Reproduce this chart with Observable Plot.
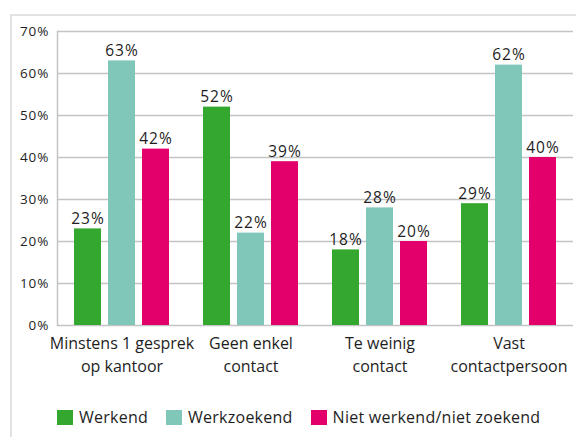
<!DOCTYPE html>
<html>
<head>
<meta charset="utf-8">
<script src="https://cdn.jsdelivr.net/npm/d3@7"></script>
<script src="https://cdn.jsdelivr.net/npm/@observablehq/plot@0.6"></script>
<style>
  html, body { margin: 0; padding: 0; background: #fff; }
  #wrap { position: relative; width: 576px; height: 437px; overflow: hidden; font-family: "Open Sans", "Noto Sans", sans-serif; color: #1e1e1e; }
  #frame { position: absolute; left: 10px; top: 14px; width: 700px; height: 600px; border-left: 2px solid #e2e2e2; border-top: 2px solid #e2e2e2; }
  #chart { position: absolute; left: 0; top: 0; }
  #chart g[aria-label="y-axis tick label"] text { letter-spacing: 1px; }
  #chart g[aria-label="text"] text { letter-spacing: 1px; }
  #legend { position: absolute; left: 57px; top: 406px; display: flex; align-items: center; font-size: 16px; letter-spacing: 0.25px; white-space: nowrap; }
  .item { display: flex; align-items: center; margin-right: 18px; }
  .sw { width: 16px; height: 15px; margin-right: 6px; }
</style>
</head>
<body>
<div id="wrap">
  <div id="frame"></div>
  <div id="chart"></div>
  <div id="legend"></div>
</div>
<script>
const categories = ["Minstens 1 gesprek\nop kantoor", "Geen enkel\ncontact", "Te weinig\ncontact", "Vast\ncontactpersoon"];
const series = ["Werkend", "Werkzoekend", "Niet werkend/niet zoekend"];
const werkend = [0.23, 0.52, 0.18, 0.29];
const werkzoekend = [0.63, 0.22, 0.28, 0.62];
const nietWerkend = [0.42, 0.39, 0.20, 0.40];
const colors = ["#33a72e", "#80c7b9", "#e3006b"];
const yTicks = [0, 0.1, 0.2, 0.3, 0.4, 0.5, 0.6, 0.7];

const values = [werkend, werkzoekend, nietWerkend];
const data = [];
categories.forEach((c, i) => series.forEach((s, j) => data.push({cat: c, series: s, value: values[j][i]})));
const pct = d3.format(".0%");

const chart = Plot.plot({
  width: 576,
  height: 395,
  marginLeft: 56,
  marginRight: 2,
  marginTop: 31,
  marginBottom: 70,
  style: {fontFamily: "'Open Sans', 'Noto Sans', sans-serif", color: "#1e1e1e", background: "transparent"},
  fx: {domain: categories, padding: 0, label: null},
  x: {domain: series, paddingInner: 0.2, paddingOuter: 0.446, axis: null},
  y: {domain: [0, 0.7], label: null},
  color: {domain: series, range: colors},
  marks: [
    Plot.gridY(yTicks, {stroke: "#c4c4c4", strokeOpacity: 1, strokeWidth: 1.5}),
    Plot.frame({facet: "super", anchor: "left", stroke: "#c4c4c4", strokeWidth: 1.5}),
    Plot.axisY(yTicks, {tickSize: 0, tickPadding: 8, fontSize: 13.5, tickFormat: pct, label: null}),
    Plot.axisFx({anchor: "bottom", tickSize: 0, tickPadding: 7, fontSize: 16, lineHeight: 1.45, label: null}),
    Plot.barY(data, {fx: "cat", x: "series", y: "value", fill: "series"}),
    Plot.text(data, {fx: "cat", x: "series", y: "value", text: d => pct(d.value), lineAnchor: "bottom", dy: -5, fontSize: 15.5, fill: "#1e1e1e"})
  ]
});
document.getElementById("chart").appendChild(chart);

const legend = document.getElementById("legend");
series.forEach((s, i) => {
  const item = document.createElement("div");
  item.className = "item";
  const sw = document.createElement("div");
  sw.className = "sw";
  sw.style.background = colors[i];
  const label = document.createElement("span");
  label.textContent = s;
  item.appendChild(sw);
  item.appendChild(label);
  legend.appendChild(item);
});
</script>
</body>
</html>
